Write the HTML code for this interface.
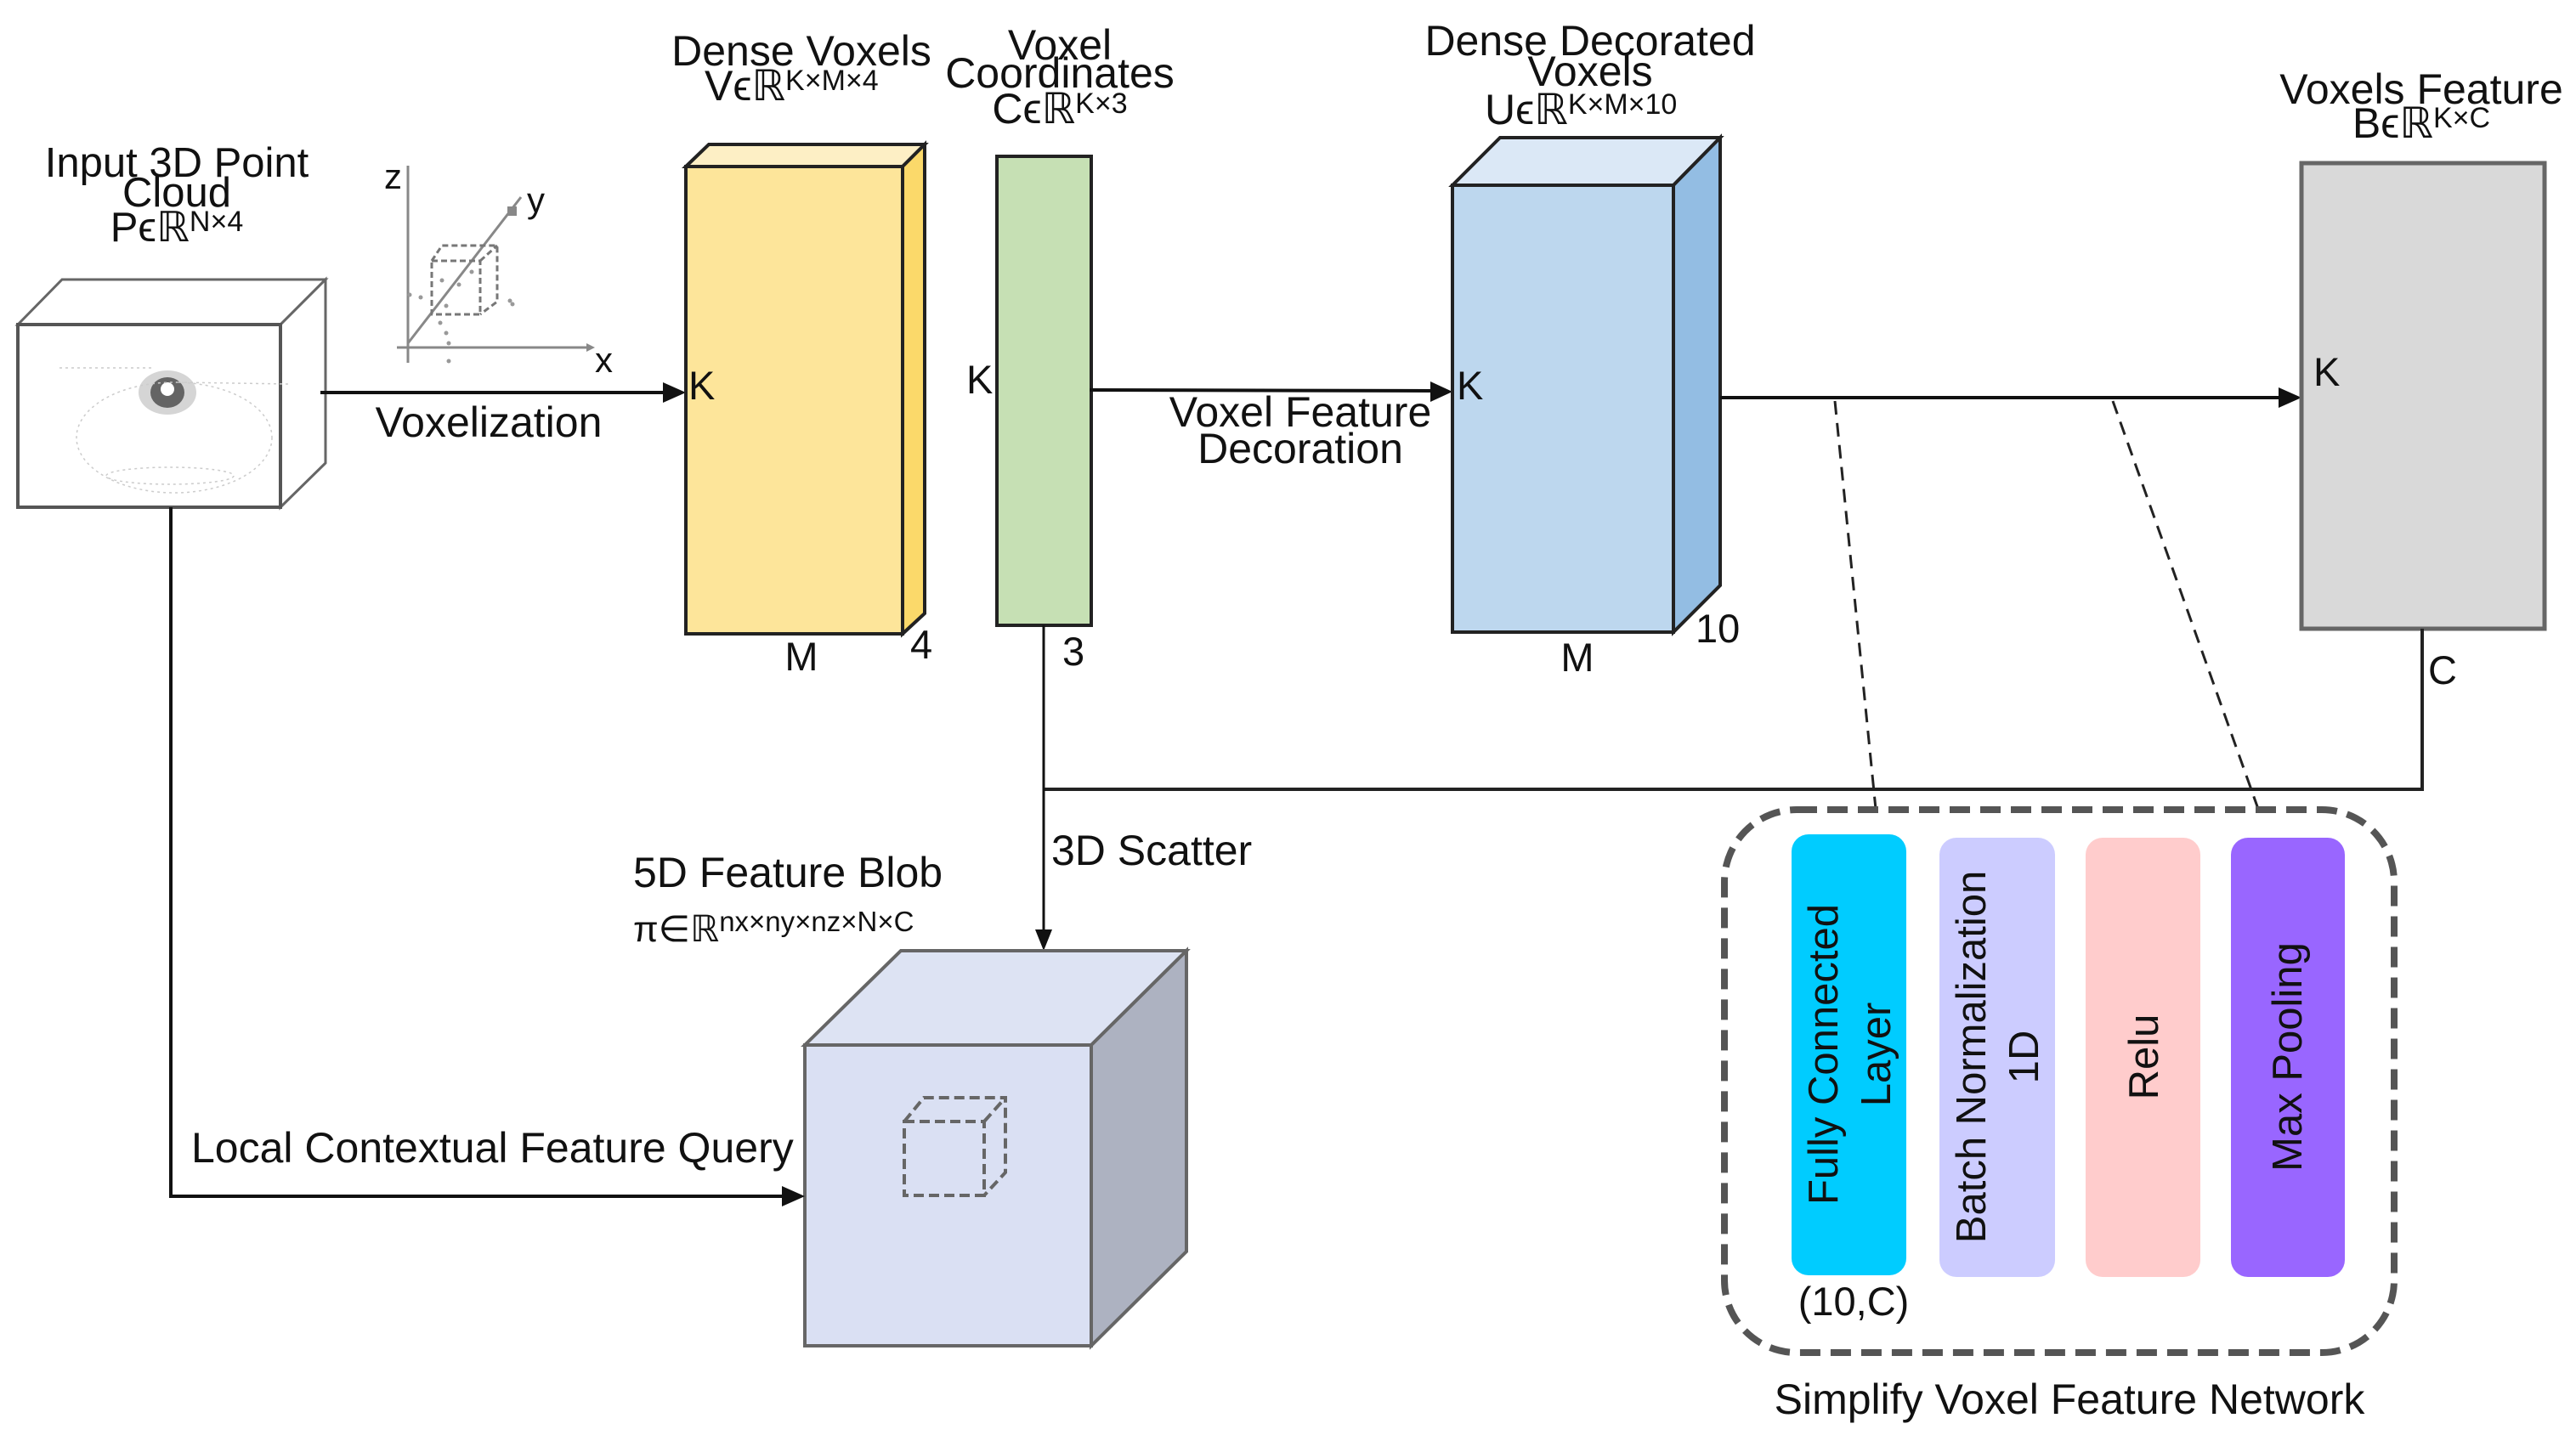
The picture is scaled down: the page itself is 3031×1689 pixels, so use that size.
<!DOCTYPE html>
<html><head><meta charset="utf-8"><style>
html,body{margin:0;padding:0;background:#fff;}
svg{display:block;}
text{font-family:"Liberation Sans",Arial,sans-serif;fill:#111;}
</style></head><body>
<svg width="3031" height="1689" viewBox="0 0 3031 1689" xmlns="http://www.w3.org/2000/svg">

<!-- Point cloud cube -->
<polygon points="21,382 73,329 383,329 330,382" fill="#fff" stroke="#666" stroke-width="3"/>
<polygon points="330,382 383,329 383,545 330,597" fill="#fff" stroke="#666" stroke-width="3"/>
<rect x="21" y="382" width="309" height="215" fill="#fff" stroke="#555" stroke-width="4"/>
<g>
<ellipse cx="197" cy="462" rx="34" ry="26" fill="#888" opacity="0.35"/>
<ellipse cx="197" cy="462" rx="20" ry="18" fill="#333" opacity="0.7"/>
<circle cx="197" cy="458" r="8" fill="#fff"/>
<g stroke="#ccc" stroke-width="1.5" stroke-dasharray="3,4" fill="none">
<line x1="70" y1="433" x2="180" y2="433"/>
<line x1="210" y1="450" x2="340" y2="452"/>
<ellipse cx="200" cy="560" rx="75" ry="10"/>
<ellipse cx="205" cy="515" rx="115" ry="65"/>
</g>
</g>

<!-- axes -->
<g stroke="#888" stroke-width="3" fill="none">
<line x1="480" y1="195" x2="480" y2="427"/>
<line x1="467" y1="409" x2="696" y2="409"/>
<line x1="480" y1="404" x2="613" y2="232"/>
</g>
<polygon points="700,409 690,404 690,414" fill="#888"/>
<rect x="597" y="243" width="11" height="11" fill="#888"/>
<g stroke="#777" stroke-width="3" stroke-dasharray="7,4" fill="none">
<rect x="508" y="307" width="57" height="63"/>
<polyline points="508,307 520,289 585,289 585,355 565,370"/>
<line x1="565" y1="307" x2="585" y2="289"/>
</g>
<g fill="#999">
<circle cx="482" cy="347" r="2.5"/><circle cx="495" cy="350" r="2.5"/><circle cx="600" cy="354" r="2.5"/><circle cx="603" cy="358" r="2.5"/>
<circle cx="520" cy="330" r="2.5"/><circle cx="540" cy="335" r="2.5"/><circle cx="555" cy="320" r="2.5"/><circle cx="525" cy="360" r="2.5"/>
<circle cx="518" cy="380" r="2.5"/><circle cx="525" cy="392" r="2.5"/><circle cx="528" cy="404" r="2.5"/><circle cx="528" cy="425" r="2.5"/>
</g>
<text x="452" y="222" font-size="42">z</text>
<text x="620" y="250" font-size="42">y</text>
<text x="700" y="438" font-size="42">x</text>

<!-- Input title -->
<text x="208" y="208" font-size="49" text-anchor="middle">Input 3D Point</text>
<text x="208" y="243" font-size="49" text-anchor="middle">Cloud</text>
<text x="208" y="284" font-size="49" text-anchor="middle">Pϵℝ<tspan font-size="34" dy="-12">N×4</tspan></text>

<!-- Voxelization arrow -->
<line x1="377" y1="462" x2="785" y2="462" stroke="#111" stroke-width="4"/>
<polygon points="807,462 780,450 780,474" fill="#111"/>
<text x="575" y="514" font-size="50" text-anchor="middle">Voxelization</text>

<!-- Yellow box -->
<polygon points="807,196 834,170 1088,170 1062,196" fill="#fdefc5" stroke="#222" stroke-width="4"/>
<polygon points="1062,196 1088,170 1088,722 1062,746" fill="#fbd96a" stroke="#222" stroke-width="4"/>
<rect x="807" y="196" width="255" height="550" fill="#fde59a" stroke="#222" stroke-width="4"/>
<text x="810" y="470" font-size="47">K</text>
<text x="943" y="789" font-size="47" text-anchor="middle">M</text>
<text x="1071" y="775" font-size="47">4</text>
<text x="943" y="77" font-size="50" text-anchor="middle">Dense Voxels</text>
<text x="829" y="118" font-size="50">Vϵℝ<tspan font-size="34" dy="-12">K×M×4</tspan></text>

<!-- Green -->
<rect x="1173" y="184" width="111" height="552" fill="#c6e0b4" stroke="#222" stroke-width="4"/>
<text x="1137" y="463" font-size="47">K</text>
<text x="1250" y="783" font-size="47">3</text>
<text x="1247" y="70" font-size="50" text-anchor="middle">Voxel</text>
<text x="1247" y="103" font-size="50" text-anchor="middle">Coordinates</text>
<text x="1247" y="145" font-size="50" text-anchor="middle">Cϵℝ<tspan font-size="34" dy="-12">K×3</tspan></text>

<!-- green->blue arrow -->
<line x1="1282" y1="459" x2="1688" y2="460" stroke="#111" stroke-width="4"/>
<polygon points="1709,461 1683,449 1683,473" fill="#111"/>
<text x="1530" y="502" font-size="50" text-anchor="middle">Voxel Feature</text>
<text x="1530" y="545" font-size="50" text-anchor="middle">Decoration</text>

<!-- Blue box -->
<polygon points="1709,218 1765,162 2024,162 1969,218" fill="#dbe8f6" stroke="#222" stroke-width="4"/>
<polygon points="1969,218 2024,162 2024,689 1969,744" fill="#93bde3" stroke="#222" stroke-width="4"/>
<rect x="1709" y="218" width="260" height="526" fill="#bdd7ee" stroke="#222" stroke-width="4"/>
<text x="1714" y="470" font-size="47">K</text>
<text x="1856" y="790" font-size="47" text-anchor="middle">M</text>
<text x="1995" y="756" font-size="47">10</text>
<text x="1871" y="65" font-size="50" text-anchor="middle">Dense Decorated</text>
<text x="1871" y="101" font-size="50" text-anchor="middle">Voxels</text>
<text x="1747" y="146" font-size="50">Uϵℝ<tspan font-size="34" dy="-12">K×M×10</tspan></text>

<!-- blue->gray arrow -->
<line x1="2024" y1="468" x2="2686" y2="468" stroke="#111" stroke-width="4"/>
<polygon points="2708,468 2681,456 2681,480" fill="#111"/>

<!-- Gray -->
<rect x="2708" y="192" width="286" height="548" fill="#d9d9d9" stroke="#666" stroke-width="5"/>
<text x="2722" y="454" font-size="47">K</text>
<text x="2849" y="122" font-size="50" text-anchor="middle">Voxels Feature</text>
<text x="2849" y="162" font-size="50" text-anchor="middle">Bϵℝ<tspan font-size="34" dy="-12">K×C</tspan></text>
<text x="2857" y="805" font-size="47">C</text>

<!-- dashed leaders -->
<line x1="2159" y1="472" x2="2207" y2="952" stroke="#222" stroke-width="3" stroke-dasharray="16,10"/>
<line x1="2486" y1="472" x2="2657" y2="952" stroke="#222" stroke-width="3" stroke-dasharray="16,10"/>

<!-- C line & horizontal -->
<polyline points="2850,740 2850,929 1228,929" fill="none" stroke="#222" stroke-width="4"/>
<line x1="1228" y1="736" x2="1228" y2="1096" stroke="#111" stroke-width="3"/>
<polygon points="1228,1119 1218,1094 1238,1094" fill="#111"/>
<text x="1237" y="1018" font-size="50">3D Scatter</text>

<!-- Blob -->
<text x="745" y="1044" font-size="50">5D Feature Blob</text>
<text x="745" y="1108" font-size="43">π∈ℝ<tspan font-size="33" dy="-12">nx×ny×nz×N×C</tspan></text>
<polygon points="947,1230 1060,1119 1396,1119 1284,1230" fill="#dde3f3" stroke="#666" stroke-width="4"/>
<polygon points="1284,1230 1396,1119 1396,1473 1284,1584" fill="#adb2c1" stroke="#666" stroke-width="4"/>
<rect x="947" y="1230" width="337" height="354" fill="#dae0f3" stroke="#666" stroke-width="4"/>
<g stroke="#666" stroke-width="4" stroke-dasharray="12,6" fill="none">
<rect x="1064" y="1320" width="94" height="87"/>
<polyline points="1064,1320 1087,1292 1183,1292 1183,1380 1158,1407"/>
<line x1="1158" y1="1320" x2="1183" y2="1292"/>
</g>

<!-- left query line -->
<polyline points="201,597 201,1408 923,1408" fill="none" stroke="#111" stroke-width="4"/>
<polygon points="947,1408 920,1396 920,1420" fill="#111"/>
<text x="225" y="1368" font-size="50">Local Contextual Feature Query</text>

<!-- SVFN -->
<rect x="2029" y="953" width="788" height="639" rx="85" ry="85" fill="none" stroke="#555" stroke-width="8" stroke-dasharray="24,12"/>
<rect x="2108" y="982" width="135" height="519" rx="20" fill="#00ccff"/>
<rect x="2282" y="986" width="136" height="517" rx="20" fill="#ccccff"/>
<rect x="2454" y="986" width="135" height="517" rx="20" fill="#ffcccc"/>
<rect x="2625" y="986" width="134" height="517" rx="20" fill="#9966ff"/>
<text transform="translate(2162,1241) rotate(-90)" font-size="49" text-anchor="middle">Fully Connected</text>
<text transform="translate(2224,1241) rotate(-90)" font-size="49" text-anchor="middle">Layer</text>
<text transform="translate(2336,1244) rotate(-90)" font-size="49" text-anchor="middle">Batch Normalization</text>
<text transform="translate(2398,1244) rotate(-90)" font-size="49" text-anchor="middle">1D</text>
<text transform="translate(2539,1244) rotate(-90)" font-size="49" text-anchor="middle">Relu</text>
<text transform="translate(2708,1244) rotate(-90)" font-size="49" text-anchor="middle">Max Pooling</text>
<text x="2181" y="1548" font-size="47" text-anchor="middle">(10,C)</text>
<text x="2435" y="1664" font-size="50" text-anchor="middle">Simplify Voxel Feature Network</text>
</svg>
</body></html>
